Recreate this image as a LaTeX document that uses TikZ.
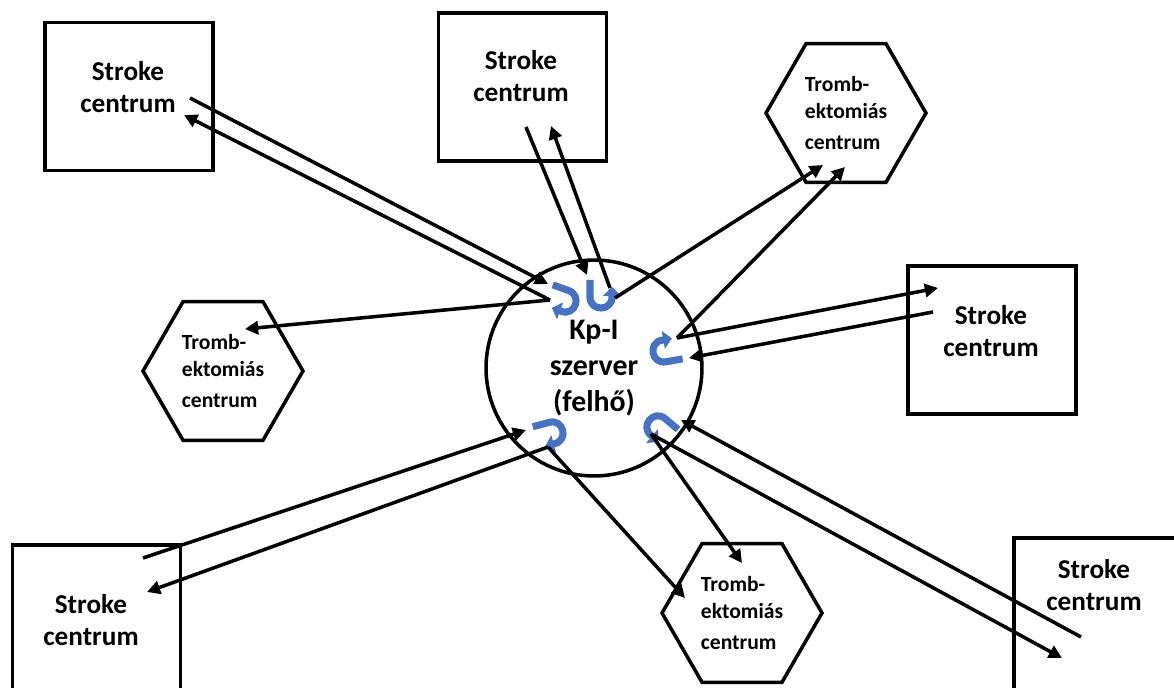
\documentclass[tikz,border=0pt]{standalone}
\usepackage{fontspec}
\setmainfont{Carlito}
\usetikzlibrary{arrows.meta,shapes.geometric}

\definecolor{turnblue}{RGB}{68,114,196}

\tikzset{
  uturn ccw/.pic={\draw[uarrow] (17,-11) -- (0,-11) .. controls (-14.7,-11) and (-14.7,11) .. (0,11) -- (10,11);},
  uturn cw/.pic={\draw[uarrow] (17,11) -- (0,11) .. controls (-14.7,11) and (-14.7,-11) .. (0,-11) -- (10,-11);}
}

\begin{document}
\begin{tikzpicture}[x=0.02cm, y=-0.02cm,
  centre/.style={rectangle, draw, line width=2pt, minimum width=3.36cm, minimum height=2.96cm, inner sep=0pt},
  boxtext/.style={align=center, inner sep=0pt, font=\fontsize{15.5}{18.7}\selectfont\bfseries},
  hexa/.style={regular polygon, regular polygon sides=6, draw, line width=2pt, minimum size=3.2cm, inner sep=0pt, align=left, font=\fontsize{12.3}{15.3}\selectfont\bfseries},
  server/.style={circle, draw, line width=2pt, minimum size=4.32cm, inner sep=0pt, align=center, font=\fontsize{17}{20.4}\selectfont\bfseries},
  link/.style={-{Triangle[length=7.5pt,width=7.5pt]}, line width=2pt},
  uarrow/.style={draw=turnblue, line width=4pt, -{Triangle[length=5pt,width=10pt]}}
]
\useasboundingbox (0,0) rectangle (1174,688);
\clip (0,0) rectangle (1174,688);

% stroke centres
\node[centre] (s1) at (129,96.5) {};
\node[centre] (s2) at (522.5,87) {};
\node[centre] (s3) at (992,340) {};
\node[centre, minimum height=3.3cm] (s4) at (1098,620.5) {};
\node[centre] (s5) at (96.5,619) {};
\node[boxtext] (s1t) at (128,87) {Stroke\\centrum};
\node[boxtext] (s2t) at (521,76) {Stroke\\centrum};
\node[boxtext] (s3t) at (991,331) {Stroke\\centrum};
\node[boxtext] (s4t) at (1094,585) {Stroke\\centrum};
\node[boxtext] (s5t) at (91,620) {Stroke\\centrum};

% thrombectomy centres
\node[hexa] (h1) at (846,113) {Tromb-\\ektomiás\\[2.8pt]centrum};
\node[hexa] (h2) at (223,371) {Tromb-\\ektomiás\\[2.8pt]centrum};
\node[hexa] (h3) at (742,613) {Tromb-\\ektomiás\\[2.8pt]centrum};

\node[server] (srv) at (594,368) {Kp-I\\szerver\\(felhő)};

\pic[rotate=160] at (565,301) {uturn cw};
\pic[rotate=90] at (601,297) {uturn ccw};
\pic[rotate=10] at (664,351) {uturn cw};
\pic[rotate=195] at (552,433) {uturn cw};
\pic[rotate=-40] at (658,427) {uturn ccw};

% end points
\coordinate (s1out) at (190,98);
\coordinate (s1in) at (184,115);
\coordinate (s2out) at (526,127);
\coordinate (s2in) at (551,126);
\coordinate (h1a) at (823,165);
\coordinate (h1b) at (845,167);
\coordinate (s3in) at (938,288);
\coordinate (s3out) at (933,312);
\coordinate (s4out) at (1081,637);
\coordinate (s4in) at (1062,658);
\coordinate (h3a) at (742,563);
\coordinate (h3b) at (685,598);
\coordinate (s5out) at (143,558);
\coordinate (s5in) at (147,592);
\coordinate (h2a) at (245,329);
\coordinate (u1in) at (548,284);
\coordinate (u1out) at (550,300);
\coordinate (u2in) at (587,275);
\coordinate (u2out) at (610,288);
\coordinate (u2b) at (615,298);
\coordinate (u3out) at (677,338);
\coordinate (u3in) at (689,358);
\coordinate (u5in) at (681,420);
\coordinate (u5out) at (651,434);
\coordinate (u4out) at (548,447);
\coordinate (u4in) at (526,430);

\draw[link] (s1out) -- (u1in);
\draw[link] (u1out) -- (s1in);
\draw[link] (u1out) -- (h2a);
\draw[link] (s2out) -- (u2in);
\draw[link] (u2out) -- (s2in);
\draw[link] (u2b) -- (h1a);
\draw[link] (u3out) -- (h1b);
\draw[link] (u3out) -- (s3in);
\draw[link] (s3out) -- (u3in);
\draw[link] (s4out) -- (u5in);
\draw[link] (u5out) -- (s4in);
\draw[link] (u5out) -- (h3a);
\draw[link] (u4out) -- (h3b);
\draw[link] (u4out) -- (s5in);
\draw[link] (s5out) -- (u4in);
\end{tikzpicture}
\end{document}
